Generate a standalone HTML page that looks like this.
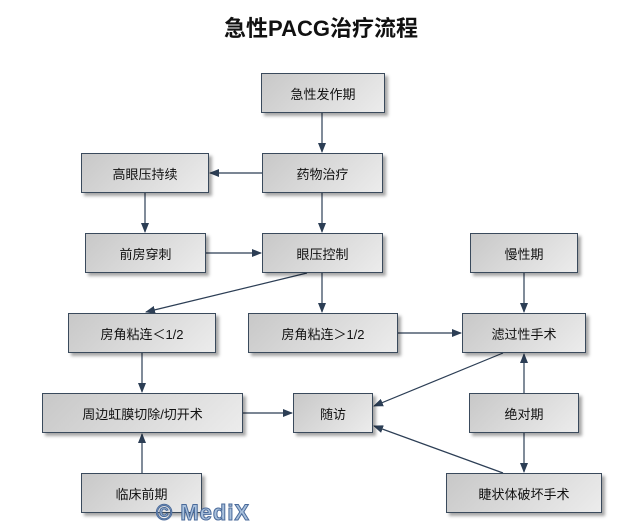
<!DOCTYPE html>
<html><head><meta charset="utf-8"><style>
body{margin:0;width:642px;height:522px;background:#fff;overflow:hidden;position:relative;font-family:"Liberation Sans","Noto Sans CJK SC",sans-serif}
.t{position:absolute;left:0;width:642px;top:11px;text-align:center;font-size:22px;font-weight:bold;color:#111}
.b{position:absolute;box-sizing:border-box;border:1px solid #3a4a5c;background:linear-gradient(135deg,#c8c8c8,#ececec);box-shadow:3px 3px 3px rgba(0,0,0,.35);display:flex;align-items:center;justify-content:center;font-size:13px;color:#111}
svg{position:absolute;left:0;top:0}
.w{position:absolute;left:156px;top:500px;font-size:22px;font-weight:bold;color:#a8c0dc;-webkit-text-stroke:1px #4a6a9a;letter-spacing:1px}
</style></head><body>
<div class="t">急性PACG治疗流程</div>
<svg width="642" height="522"><defs><marker id="a" markerWidth="10" markerHeight="8" refX="9" refY="4" orient="auto" markerUnits="userSpaceOnUse"><path d="M0,0L10,4L0,8z" fill="#2c3e55"/></marker></defs>
<g stroke="#2c3e55" stroke-width="1.2" fill="none" marker-end="url(#a)">
<line x1="322" y1="113" x2="322" y2="152"/>
<line x1="262" y1="173" x2="210" y2="173"/>
<line x1="145" y1="193" x2="145" y2="232"/>
<line x1="322" y1="193" x2="322" y2="232"/>
<line x1="206" y1="253" x2="261" y2="253"/>
<line x1="307" y1="273" x2="146" y2="312"/>
<line x1="322" y1="273" x2="322" y2="312"/>
<line x1="524" y1="273" x2="524" y2="312"/>
<line x1="398" y1="333" x2="461" y2="333"/>
<line x1="142" y1="353" x2="142" y2="392"/>
<line x1="243" y1="413" x2="292" y2="413"/>
<line x1="503" y1="353" x2="374" y2="406"/>
<line x1="524" y1="393" x2="524" y2="354"/>
<line x1="524" y1="433" x2="524" y2="472"/>
<line x1="503" y1="473" x2="374" y2="426"/>
<line x1="142" y1="473" x2="142" y2="434"/>
</g></svg>
<div class="b" style="left:261px;top:73px;width:124px;height:40px">急性发作期</div>
<div class="b" style="left:262px;top:153px;width:121px;height:40px">药物治疗</div>
<div class="b" style="left:81px;top:153px;width:128px;height:40px">高眼压持续</div>
<div class="b" style="left:85px;top:233px;width:121px;height:40px">前房穿刺</div>
<div class="b" style="left:262px;top:233px;width:121px;height:40px">眼压控制</div>
<div class="b" style="left:470px;top:233px;width:108px;height:40px">慢性期</div>
<div class="b" style="left:68px;top:313px;width:148px;height:40px">房角粘连＜1/2</div>
<div class="b" style="left:248px;top:313px;width:150px;height:40px">房角粘连＞1/2</div>
<div class="b" style="left:462px;top:313px;width:124px;height:40px">滤过性手术</div>
<div class="b" style="left:42px;top:393px;width:201px;height:40px">周边虹膜切除/切开术</div>
<div class="b" style="left:293px;top:393px;width:80px;height:40px">随访</div>
<div class="b" style="left:469px;top:393px;width:110px;height:40px">绝对期</div>
<div class="b" style="left:81px;top:473px;width:121px;height:40px">临床前期</div>
<div class="b" style="left:446px;top:473px;width:156px;height:40px">睫状体破坏手术</div>
<div class="w">© MediX</div>
</body></html>
